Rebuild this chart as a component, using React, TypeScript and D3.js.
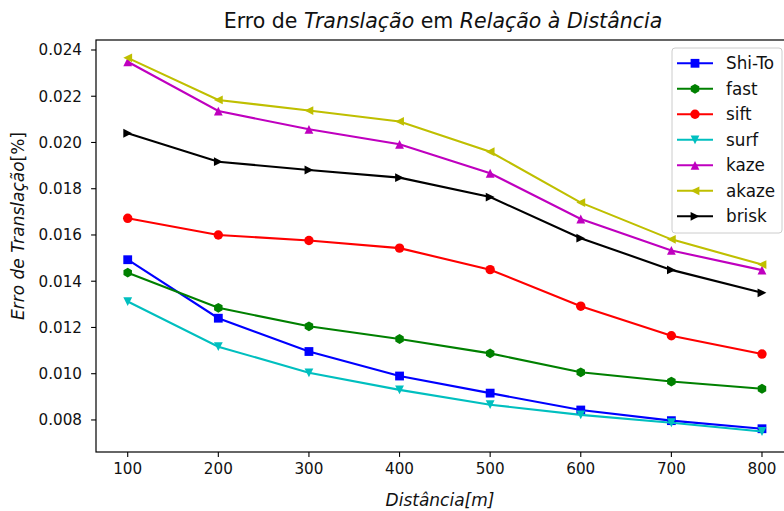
import React from "react";
import * as d3 from "d3";

const distances = [100, 200, 300, 400, 500, 600, 700, 800];
const shiTo = [0.01493, 0.01240, 0.01096, 0.00990, 0.00916, 0.00843, 0.00797, 0.00762];
const fast = [0.01437, 0.01285, 0.01205, 0.01150, 0.01088, 0.01006, 0.00966, 0.00935];
const sift = [0.01672, 0.01600, 0.01576, 0.01543, 0.01450, 0.01292, 0.01164, 0.01085];
const surf = [0.01312, 0.01117, 0.01004, 0.00930, 0.00866, 0.00822, 0.00788, 0.00750];
const kaze = [0.02349, 0.02136, 0.02057, 0.01992, 0.01867, 0.01669, 0.01533, 0.01448];
const akaze = [0.02366, 0.02184, 0.02138, 0.02091, 0.01960, 0.01740, 0.01581, 0.01472];
const brisk = [0.02040, 0.01917, 0.01881, 0.01848, 0.01764, 0.01586, 0.01449, 0.01350];

const seriesNames = ["Shi-To", "fast", "sift", "surf", "kaze", "akaze", "brisk"];
const seriesValues = [shiTo, fast, sift, surf, kaze, akaze, brisk];
const seriesColors = ["#0000ff", "#008000", "#ff0000", "#00bfbf", "#bf00bf", "#bfbf00", "#000000"];
const seriesMarkers = ["square", "hexagon", "circle", "tri_down", "tri_up", "tri_left", "tri_right"];

const xTicks = [100, 200, 300, 400, 500, 600, 700, 800];
const yTicks = [0.008, 0.010, 0.012, 0.014, 0.016, 0.018, 0.020, 0.022, 0.024];

const FONT = "DejaVu Sans";

function Marker({ type, x, y, color }: { type: string; x: number; y: number; color: string }) {
  const s = 4.4;
  if (type === "square") {
    return <rect x={x - s} y={y - s} width={2 * s} height={2 * s} fill={color} />;
  }
  if (type === "circle") {
    return <circle cx={x} cy={y} r={s + 0.3} fill={color} />;
  }
  let pts: [number, number][] = [];
  if (type === "hexagon") {
    const r = 4.9;
    for (let i = 0; i < 6; i++) {
      const a = (Math.PI / 3) * i - Math.PI / 2;
      pts.push([x + r * Math.cos(a), y + r * Math.sin(a)]);
    }
  } else if (type === "tri_up") {
    pts = [[x, y - s], [x - s, y + s], [x + s, y + s]];
  } else if (type === "tri_down") {
    pts = [[x, y + s], [x - s, y - s], [x + s, y - s]];
  } else if (type === "tri_left") {
    pts = [[x - s, y], [x + s, y - s], [x + s, y + s]];
  } else if (type === "tri_right") {
    pts = [[x + s, y], [x - s, y - s], [x - s, y + s]];
  }
  return <polygon points={pts.map((p) => p.join(",")).join(" ")} fill={color} />;
}

export default function App() {
  const W = 784;
  const H = 511;
  const left = 96;
  const right = 793.7;
  const top = 40;
  const bottom = 452;

  const x = d3.scaleLinear().domain([65, 835]).range([left, right]);
  const y = d3.scaleLinear().domain([0.006614, 0.024432]).range([bottom, top]);

  const line = d3
    .line<number>()
    .x((_, i) => x(distances[i]))
    .y((d) => y(d));

  const legendX = 672;
  const legendY = 48;
  const rowH = 25.5;

  return (
    <svg
      width={W}
      height={H}
      style={{ position: "absolute", left: 0, top: 0, background: "#fff" }}
      fontFamily={FONT}
    >
      <rect x={0} y={0} width={W} height={H} fill="#fff" />
      <defs>
        <clipPath id="plotclip">
          <rect x={left} y={top} width={right - left} height={bottom - top} />
        </clipPath>
      </defs>

      {/* title */}
      <text x={443} y={28} textAnchor="middle" fontSize={20.5} fill="#111">
        <tspan>Erro de </tspan>
        <tspan fontStyle="italic">Translação</tspan>
        <tspan> em </tspan>
        <tspan fontStyle="italic">Relação à Distância</tspan>
      </text>

      {/* series */}
      <g clipPath="url(#plotclip)">
        {seriesValues.map((vals, si) => (
          <g key={seriesNames[si]}>
            <path d={line(vals) || ""} fill="none" stroke={seriesColors[si]} strokeWidth={2.1} />
            {vals.map((v, i) => (
              <Marker key={i} type={seriesMarkers[si]} x={x(distances[i])} y={y(v)} color={seriesColors[si]} />
            ))}
          </g>
        ))}
      </g>

      {/* spines */}
      <rect x={left} y={top} width={right - left} height={bottom - top} fill="none" stroke="#000" strokeWidth={1.2} />

      {/* y ticks */}
      {yTicks.map((t) => (
        <g key={t}>
          <line x1={left - 4.9} x2={left} y1={y(t)} y2={y(t)} stroke="#000" strokeWidth={1.1} />
          <text x={left - 14} y={y(t) + 5.5} textAnchor="end" fontSize={15.2} fill="#111">
            {t.toFixed(3)}
          </text>
        </g>
      ))}

      {/* x ticks */}
      {xTicks.map((t) => (
        <g key={t}>
          <line x1={x(t)} x2={x(t)} y1={bottom} y2={bottom + 4.9} stroke="#000" strokeWidth={1.1} />
          <text x={x(t)} y={bottom + 22} textAnchor="middle" fontSize={15.2} fill="#111">
            {t}
          </text>
        </g>
      ))}

      {/* axis labels */}
      <text x={440} y={506} textAnchor="middle" fontSize={17} fill="#111">
        <tspan fontStyle="italic">Distância</tspan>
        <tspan fontStyle="italic">[m]</tspan>
      </text>
      <text
        transform={`translate(24,${226}) rotate(-90)`}
        textAnchor="middle"
        fontSize={17}
        fill="#111"
      >
        <tspan fontStyle="italic">Erro de Translação</tspan>
        <tspan>[%]</tspan>
      </text>

      {/* legend */}
      <rect
        x={legendX}
        y={legendY}
        width={110}
        height={185}
        rx={3}
        fill="#fff"
        fillOpacity={0.8}
        stroke="#cccccc"
        strokeWidth={1}
      />
      {seriesNames.map((name, i) => {
        const cy = legendY + 15.3 + i * rowH;
        return (
          <g key={name}>
            <line x1={677} x2={713} y1={cy} y2={cy} stroke={seriesColors[i]} strokeWidth={2.1} />
            <Marker type={seriesMarkers[i]} x={695} y={cy} color={seriesColors[i]} />
            <text x={726} y={cy + 6} fontSize={16.8} fill="#111">
              {name}
            </text>
          </g>
        );
      })}
    </svg>
  );
}
